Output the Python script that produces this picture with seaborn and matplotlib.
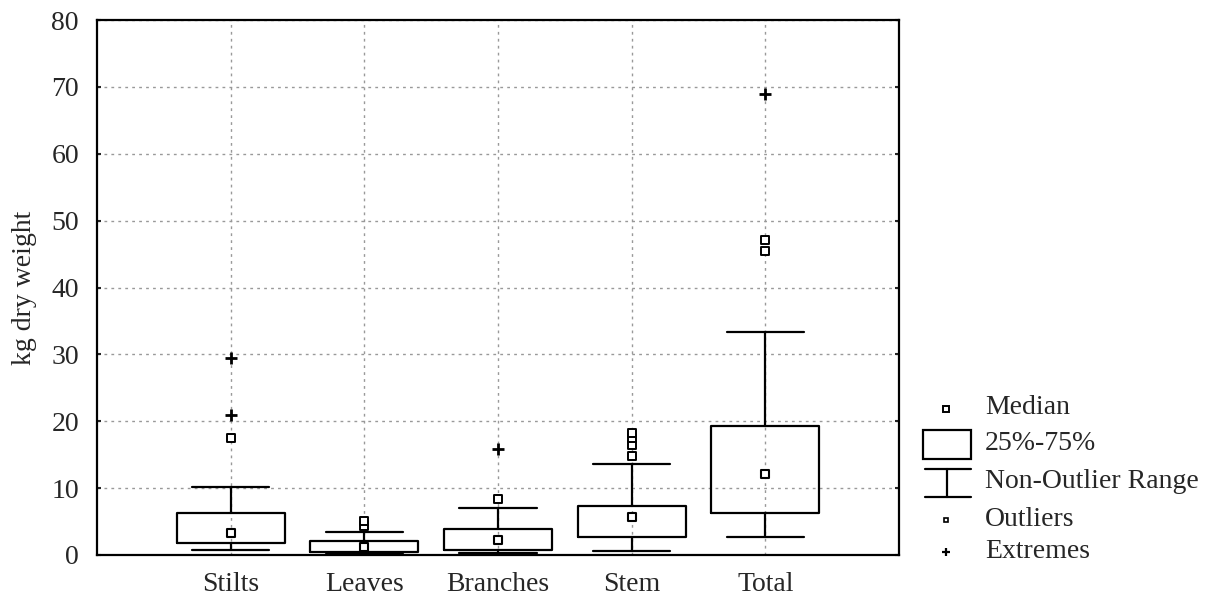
import matplotlib
matplotlib.use("Agg")
import matplotlib.pyplot as plt
import seaborn as sns
import pandas as pd
from matplotlib.patches import Rectangle
from matplotlib.lines import Line2D

# ---- data (kg dry weight) ----
categories = ["Stilts", "Leaves", "Branches", "Stem", "Total"]
medians = [3.3, 1.25, 2.25, 5.7, 12.1]
q1 = [1.75, 0.5, 0.75, 2.75, 6.3]
q3 = [6.3, 2.1, 3.85, 7.4, 19.3]
whisker_low = [0.75, 0.25, 0.25, 0.65, 2.75]
whisker_high = [10.2, 3.5, 7.0, 13.6, 33.4]
outliers = {
    "Stilts": [17.5],
    "Leaves": [4.3, 5.1],
    "Branches": [8.4],
    "Stem": [14.8, 16.4, 17.5, 18.2],
    "Total": [45.5, 47.1],
}
extremes = {
    "Stilts": [21.0, 29.5],
    "Leaves": [],
    "Branches": [15.8],
    "Stem": [],
    "Total": [68.9],
}
yticks = [0, 10, 20, 30, 40, 50, 60, 70, 80]
ylabel = "kg dry weight"
legend_labels = ["Median", "25%-75%", "Non-Outlier Range", "Outliers", "Extremes"]

sns.set_style("white")
plt.rcParams["font.family"] = ["Liberation Serif", "DejaVu Serif"]

W, H = 1217, 600
FS = 20
fig = plt.figure(figsize=(W / 100, H / 100), dpi=100)
ax = fig.add_axes([97 / W, 45 / H, 802 / W, 535 / H])

positions = list(range(len(categories)))
stats = []
for i, c in enumerate(categories):
    stats.append(dict(med=medians[i], q1=q1[i], q3=q3[i],
                      whislo=whisker_low[i], whishi=whisker_high[i],
                      fliers=[], label=c))

lw = 1.6
ax.bxp(stats, positions=positions, widths=0.81, showfliers=False,
       boxprops=dict(color="black", linewidth=lw),
       whiskerprops=dict(color="black", linewidth=lw),
       capprops=dict(color="black", linewidth=lw),
       medianprops=dict(linewidth=0), capwidths=0.58, zorder=3)

med_df = pd.DataFrame({"x": positions, "y": medians})
sns.scatterplot(data=med_df, x="x", y="y", marker="s", s=40, facecolor="white",
                edgecolor="black", linewidth=1.5, ax=ax, zorder=4)

ox, oy = [], []
for i, c in enumerate(categories):
    for v in outliers[c]:
        ox.append(i); oy.append(v)
out_df = pd.DataFrame({"x": ox, "y": oy})
sns.scatterplot(data=out_df, x="x", y="y", marker="s", s=26, facecolor="white",
                edgecolor="black", linewidth=1.4, ax=ax, zorder=4)

ex, ey = [], []
for i, c in enumerate(categories):
    for v in extremes[c]:
        ex.append(i); ey.append(v)
ext_df = pd.DataFrame({"x": ex, "y": ey})
sns.scatterplot(data=ext_df, x="x", y="y", marker="+", s=80, color="black",
                linewidth=2.0, ax=ax, zorder=4)

ax.set_xlim(-1, 5)
ax.set_ylim(0, 80)
ax.set_xticks(positions)
ax.set_xticklabels(categories, fontsize=FS)
ax.set_yticks(yticks)
ax.set_yticklabels([str(t) for t in yticks], fontsize=FS)
ax.set_xlabel("")
ax.set_ylabel(ylabel, fontsize=FS, labelpad=10)
ax.grid(True, linestyle=(0, (2, 3)), color="#999999", linewidth=1.0)
ax.set_axisbelow(True)
for s in ax.spines.values():
    s.set_color("black")
    s.set_linewidth(1.6)
ax.tick_params(axis="y", direction="in", length=3, width=1.5, right=True,
               left=True, pad=13)
ax.tick_params(axis="x", direction="in", length=0, pad=12)

# ---- legend panel ----
lax = fig.add_axes([0, 0, 1, 1], facecolor="none")
lax.set_xlim(0, W)
lax.set_ylim(H, 0)
lax.axis("off")
lax.add_line(Line2D([946], [409], marker="s", markersize=5, mfc="white",
                    mec="black", mew=1.4, linestyle="none"))
lax.add_patch(Rectangle((923, 430), 48, 29, fill=False, edgecolor="black", linewidth=1.6))
lax.add_line(Line2D([925, 971], [469, 469], color="black", linewidth=1.6))
lax.add_line(Line2D([925, 971], [497, 497], color="black", linewidth=1.6))
lax.add_line(Line2D([947, 947], [469, 497], color="black", linewidth=1.6))
lax.add_line(Line2D([946], [520], marker="s", markersize=3.5, mfc="white",
                    mec="black", mew=1.2, linestyle="none"))
lax.add_line(Line2D([946], [552], marker="+", markersize=6, color="black",
                    mew=1.6, linestyle="none"))
ys = [408, 443, 481, 519, 551]
for t, yy in zip(legend_labels, ys):
    lax.text(985, yy, t, fontsize=FS, va="center", ha="left")

fig.savefig("out.png", dpi=100)
